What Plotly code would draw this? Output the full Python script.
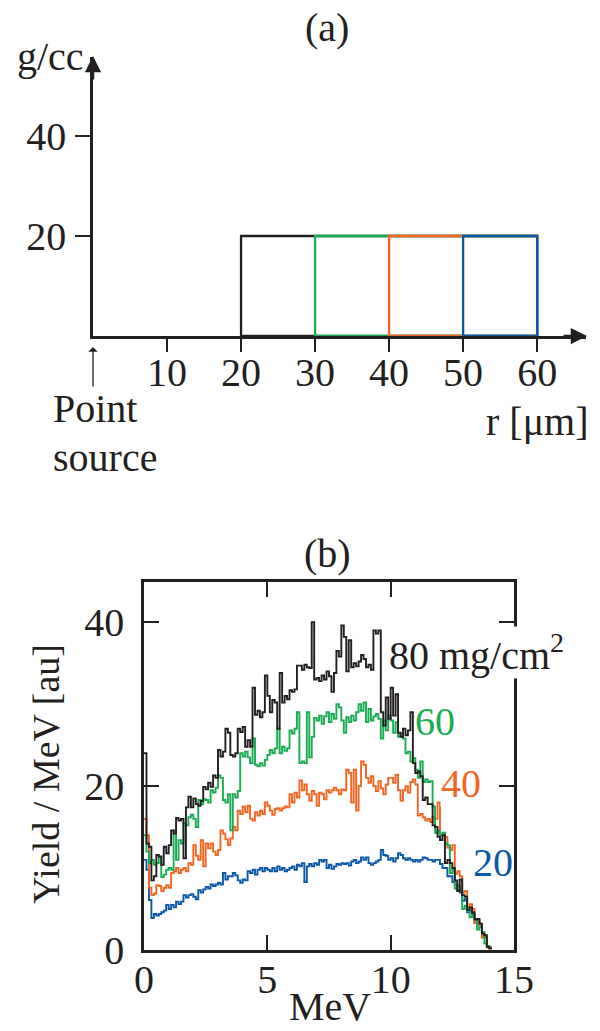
import plotly.graph_objects as go

# ---------------- data ----------------
# Panel (a): density profiles (shells from inner radius to the outer radius)
SHELL_INNER_UM = [20, 30, 40, 50]
SHELL_OUTER_UM = 60
SHELL_DENSITY = 20  # g/cc
SHELL_COLORS = ["#231f20", "#19ac52", "#f26522", "#0a58a8"]

# Panel (b): spectra, 0.1 MeV bins starting at 0 MeV
BIN_WIDTH = 0.1
Y80 = [24.0, 13.0, 12.6, 8.5, 9.0, 11.6, 11.4, 10.4, 12.6, 11.8,
       12.8, 14.6, 14.2, 16.1, 15.8, 16.0, 11.2, 17.4, 18.7, 17.4,
       18.5, 17.8, 17.6, 18.2, 19.9, 19.6, 20.4, 19.9, 21.3, 21.0,
       24.4, 23.6, 24.2, 27.0, 26.5, 23.8, 23.6, 24.0, 27.0, 26.6,
       27.2, 24.8, 25.6, 24.8, 32.0, 28.7, 29.2, 28.4, 29.0, 33.5,
       31.0, 29.0, 30.5, 30.2, 27.0, 33.8, 30.2, 31.0, 30.6, 31.7,
       31.5, 31.8, 34.7, 34.7, 34.2, 34.8, 34.5, 34.4, 40.0, 33.0,
       33.2, 32.8, 33.5, 33.0, 34.0, 33.4, 31.5, 33.8, 36.5, 35.8,
       39.6, 38.2, 34.0, 37.8, 34.5, 35.0, 34.6, 35.2, 36.0, 35.5,
       34.5, 34.8, 34.2, 39.0, 38.6, 39.0, 29.0, 27.4, 30.8, 28.2,
       32.0, 28.6, 31.2, 26.5, 26.0, 27.0, 26.2, 26.8, 29.0, 22.8,
       21.6, 21.8, 21.2, 18.3, 18.6, 17.8, 17.8, 15.2, 15.0, 13.8,
       13.4, 14.0, 10.6, 11.0, 10.6, 10.0, 8.5, 7.2, 8.6, 6.7,
       6.5, 4.9, 5.2, 4.6, 3.7, 3.8, 3.2, 2.0, 1.8, 0.4,
       0.2]
Y60 = [14.0, 12.0, 10.6, 11.0, 10.4, 10.6, 11.3, 8.9, 9.2, 9.8,
       10.0, 9.8, 14.6, 11.0, 13.4, 13.0, 15.5, 15.2, 16.2, 16.5,
       16.0, 15.0, 18.3, 17.8, 18.4, 18.3, 18.0, 19.5, 19.2, 19.8,
       21.3, 21.0, 18.3, 18.0, 19.0, 14.6, 19.0, 18.6, 19.4, 24.0,
       23.6, 24.2, 23.5, 22.8, 25.8, 22.6, 22.4, 22.8, 22.5, 23.2,
       23.8, 24.4, 24.0, 24.6, 27.0, 24.0, 24.8, 24.3, 24.6, 26.8,
       26.4, 27.0, 29.0, 22.8, 23.0, 22.8, 29.0, 23.5, 26.0, 28.3,
       28.0, 28.6, 27.6, 28.5, 29.0, 27.8, 28.8, 28.2, 30.0, 29.6,
       28.0, 26.5, 28.4, 27.8, 28.6, 28.0, 29.0, 30.0, 29.2, 30.2,
       27.8, 29.4, 28.0, 28.5, 28.8, 28.2, 25.8, 28.0, 26.8, 28.6,
       28.0, 26.5, 27.8, 26.0, 26.4, 25.8, 24.0, 24.2, 23.0, 23.4,
       22.0, 21.0, 23.0, 20.5, 20.8, 20.5, 20.6, 17.5, 14.3, 14.6,
       14.0, 14.3, 13.0, 12.8, 9.4, 9.8, 7.5, 7.8, 7.2, 5.0,
       5.4, 4.8, 4.0, 4.2, 3.8, 2.5, 2.8, 2.2, 0.8, 0.5,
       0.3]
Y40 = [16.0, 14.0, 7.6, 6.7, 6.9, 7.9, 7.8, 7.2, 7.6, 7.9,
       7.6, 9.4, 9.6, 10.0, 9.4, 9.8, 10.0, 9.6, 10.6, 10.4,
       12.8, 11.5, 11.0, 13.4, 10.2, 13.0, 12.4, 13.0, 12.0, 11.6,
       12.2, 14.6, 14.2, 13.5, 12.8, 13.6, 15.0, 14.6, 17.0, 16.6,
       17.5, 16.8, 17.6, 16.0, 15.8, 16.8, 16.4, 17.0, 16.6, 18.0,
       17.6, 17.0, 16.5, 17.2, 17.3, 17.0, 17.3, 17.5, 17.4, 19.0,
       18.0, 19.2, 18.6, 20.7, 19.5, 20.2, 19.0, 18.2, 19.4, 19.0,
       17.6, 19.2, 19.0, 18.4, 19.5, 19.2, 19.5, 19.8, 19.5, 19.0,
       19.6, 19.5, 22.0, 21.6, 18.0, 22.0, 17.0, 20.0, 23.0, 22.6,
       21.0, 20.4, 21.2, 20.0, 19.4, 20.6, 19.7, 19.0, 20.2, 21.0,
       21.0, 20.4, 21.4, 19.5, 18.2, 19.5, 20.0, 19.2, 20.5, 20.8,
       20.2, 16.4, 16.6, 16.2, 15.8, 16.0, 15.6, 16.2, 16.0, 18.0,
       14.0, 14.2, 13.8, 12.5, 12.2, 12.8, 9.3, 9.6, 9.0, 7.0,
       7.2, 5.2, 5.6, 5.0, 3.3, 3.6, 3.0, 1.5, 1.6, 0.3,
       0.2]
Y20 = [11.0, 9.8, 6.1, 3.9, 4.4, 4.2, 4.4, 4.6, 4.8, 5.5,
       5.0, 5.5, 5.2, 5.9, 5.6, 5.9, 6.7, 6.4, 6.7, 6.8,
       6.5, 6.2, 7.3, 7.0, 7.4, 7.7, 7.5, 8.0, 7.8, 8.0,
       8.2, 8.0, 9.4, 8.6, 9.0, 9.0, 9.4, 9.1, 8.5, 8.2,
       8.6, 8.5, 9.6, 9.4, 9.8, 9.2, 9.8, 10.0, 9.6, 10.0,
       9.8, 9.6, 10.0, 9.6, 10.2, 9.8, 10.0, 9.6, 9.8, 10.0,
       10.2, 9.8, 10.4, 10.2, 10.6, 8.3, 10.2, 10.5, 10.2, 10.6,
       10.4, 11.0, 10.8, 11.0, 10.0, 10.4, 9.9, 10.2, 10.5, 10.4,
       10.6, 10.5, 10.6, 10.3, 10.8, 11.0, 10.6, 10.8, 11.3, 11.0,
       11.3, 10.6, 10.4, 10.6, 10.8, 11.0, 12.2, 11.6, 11.5, 11.0,
       11.2, 10.8, 11.2, 11.8, 11.6, 11.2, 11.0, 11.2, 11.0, 10.8,
       11.0, 10.8, 11.0, 11.3, 11.2, 11.0, 11.0, 10.8, 11.0, 11.0,
       10.5, 10.0, 10.0, 9.0, 9.0, 8.3, 8.0, 7.3, 7.0, 6.0,
       6.2, 4.6, 4.8, 4.4, 3.3, 3.4, 2.8, 1.8, 1.6, 0.4,
       0.2]
SERIES = [("20", Y20, "#0a58a8"), ("40", Y40, "#f26522"),
          ("60", Y60, "#19ac52"), ("80 mg/cm<sup>2</sup>", Y80, "#231f20")]

A_XTICKS = [10, 20, 30, 40, 50, 60]
A_YTICKS = [20, 40]
B_XTICKS = [0, 5, 10, 15]
B_YTICKS = [0, 20, 40]

# ---------------- figure ----------------
W, H = 600, 1031
FONT = "Liberation Serif, Times New Roman, serif"
INK = "#231f20"
FS = 40


def px(x):
    return x / W


def py(y):
    return 1 - y / H


fig = go.Figure()

# panel (a) shells
for r_in, col in zip(SHELL_INNER_UM, SHELL_COLORS):
    fig.add_trace(go.Scatter(
        x=[r_in, r_in, SHELL_OUTER_UM, SHELL_OUTER_UM, r_in],
        y=[0, SHELL_DENSITY, SHELL_DENSITY, 0, 0],
        mode="lines", line=dict(color=col, width=2.3),
        xaxis="x", yaxis="y", cliponaxis=False, showlegend=False,
        hoverinfo="skip"))

# panel (b) spectra (stepped histograms)
for name, vals, col in SERIES:
    edges = [round(i * BIN_WIDTH, 3) for i in range(len(vals) + 1)]
    fig.add_trace(go.Scatter(
        x=edges, y=list(vals) + [vals[-1]],
        mode="lines", line=dict(color=col, width=1.9, shape="hv"),
        xaxis="x2", yaxis="y2", showlegend=False, name=name))

axis_font = dict(family=FONT, size=FS, color=INK)
common = dict(tickcolor=INK, showline=True, linecolor=INK, showgrid=False,
              zeroline=False, tickfont=axis_font, fixedrange=True,
              automargin=False, tickwidth=2)

fig.update_layout(
    template="none",
    width=W, height=H,
    margin=dict(l=0, r=0, t=0, b=0, pad=0, autoexpand=False),
    paper_bgcolor="white", plot_bgcolor="white",
    font=dict(family=FONT, color=INK, size=FS),
    xaxis=dict(domain=[px(93), px(586)], range=[0, 66.6],
               tickvals=A_XTICKS, ticks="outside", ticklen=13,
               linewidth=2.5, ticklabelstandoff=-14, **common),
    yaxis=dict(domain=[py(336), py(57)], range=[0, 55.8],
               tickvals=A_YTICKS, ticks="outside", ticklen=15,
               linewidth=2.5, ticklabelstandoff=1, **common),
    xaxis2=dict(domain=[px(144), px(514)], range=[0, 15], anchor="y2",
                tickvals=B_XTICKS, ticks="inside", ticklen=15,
                mirror="ticks", linewidth=2.5, ticklabelstandoff=-8,
                **common),
    yaxis2=dict(domain=[py(950), py(582)], range=[0, 44.9], anchor="x2",
                tickvals=B_YTICKS, ticks="inside", ticklen=15,
                mirror="ticks", linewidth=2.5, ticklabelstandoff=9,
                **common),
)

ann = []


def text(t, x, y, xa="center", ya="middle", color=INK, size=FS, angle=0, bg=None):
    d = dict(text=t, x=px(x), y=py(y), xref="paper", yref="paper",
             xanchor=xa, yanchor=ya, showarrow=False, textangle=angle,
             font=dict(family=FONT, size=size, color=color), borderpad=0)
    if bg:
        d["bgcolor"] = bg
    ann.append(d)


def arrow(x_tip, y_tip, dx, dy, width=2.5, head=2, size=1.3):
    ann.append(dict(x=px(x_tip), y=py(y_tip), xref="paper", yref="paper",
                    ax=dx, ay=dy, axref="pixel", ayref="pixel", text="",
                    showarrow=True, arrowhead=head, arrowsize=size,
                    arrowwidth=width, arrowcolor=INK, standoff=0))


# panel (a) texts and arrows
text("(a)", 327, 28)
text("g/cc", 50, 57)
text("Point", 52, 408, xa="left")
text("source", 52, 457, xa="left")
text("r [μm]", 590, 421, xa="right")
arrow(587, 336, -25, 0)
arrow(93, 56, 0, 25)
arrow(93, 347, 0, 41, width=1.3, head=1, size=1.2)

# panel (b) texts
text("(b)", 327, 553)
text("Yield / MeV [au]", 46, 774, angle=-90, size=38)
text("MeV", 330, 1030, ya="bottom")
text("80 mg/cm<sup>2</sup>", 388, 679, xa="left", ya="bottom", bg="white")
text("60", 414, 721, xa="left", color="#19ac52", bg="white")
text("40", 440, 783, xa="left", color="#f26522", bg="white")
text("20", 472, 862, xa="left", color="#0a58a8", bg="white")

fig.update_layout(annotations=ann)
fig.write_html("out.html")
